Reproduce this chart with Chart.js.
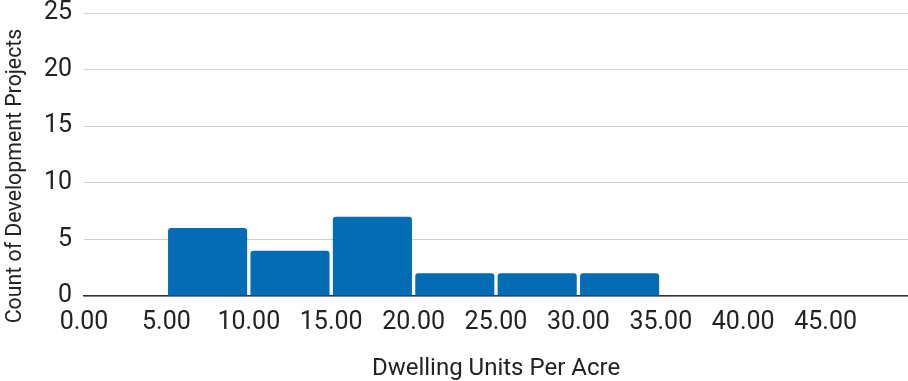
<!DOCTYPE html>
<html>
<head>
<meta charset="utf-8">
<script src="https://cdn.jsdelivr.net/npm/chart.js@4.4.1/dist/chart.umd.min.js"></script>
<style>
  html, body { margin: 0; padding: 0; background: #ffffff; }
  #wrap { width: 908px; height: 381px; position: relative; }
</style>
</head>
<body>
<div id="wrap"><canvas id="histChart"></canvas></div>
<script>
// Histogram bins (dwelling units per acre) and counts
var binStarts = [0, 5, 10, 15, 20, 25, 30, 35, 40, 45];
var binWidth = 5;
var binCounts = [0, 6, 4, 7, 2, 2, 2, 0, 0, 0];
var xTickLabels = ['0.00', '5.00', '10.00', '15.00', '20.00', '25.00', '30.00', '35.00', '40.00', '45.00'];
var yTicks = [0, 5, 10, 15, 20, 25];

var xTitle = 'Dwelling Units Per Acre';
var yTitle = 'Count of Development Projects';

var barColor = '#046bb5';
var textColor = '#222222';

// bars sit at the middle of each bin on a linear x scale
var points = binStarts.map(function(start, i) {
    return { x: start + binWidth / 2, y: binCounts[i] };
});

// the y title is drawn by hand so it can sit a bit lower than the plot centre
var yTitlePlugin = {
    id: 'yTitle',
    afterDraw: function(chart) {
        var ctx = chart.ctx;
        ctx.save();
        ctx.translate(15.5, 176);
        ctx.rotate(-Math.PI / 2);
        ctx.font = '21.3px Roboto';
        ctx.fillStyle = textColor;
        ctx.textAlign = 'center';
        ctx.textBaseline = 'middle';
        ctx.fillText(yTitle, 0, 0);
        ctx.restore();
    }
};

var ctx = document.getElementById('histChart').getContext('2d');
var histChart = new Chart(ctx, {
    type: 'bar',
    data: {
        datasets: [{
            data: points,
            backgroundColor: barColor,
            borderWidth: 0,
            borderRadius: 3,
            barPercentage: 0.96,
            categoryPercentage: 1.0
        }]
    },
    options: {
        responsive: true,
        maintainAspectRatio: false,
        animation: false,
        layout: { padding: 0 },
        plugins: {
            legend: { display: false },
            tooltip: { enabled: false }
        },
        scales: {
            x: {
                type: 'linear',
                min: 0,
                max: 50,
                offset: false,
                afterFit: function(scale) {
                    scale.height = 85;
                    scale.paddingLeft = 0;
                    scale.paddingRight = 0;
                },
                afterBuildTicks: function(scale) {
                    scale.ticks = binStarts.map(function(v) { return { value: v }; });
                },
                grid: { display: false, drawTicks: false },
                border: { display: true, color: '#333333', width: 1.5 },
                ticks: {
                    padding: 12,
                    maxRotation: 0,
                    autoSkip: false,
                    color: textColor,
                    font: { family: 'Roboto', size: 25 },
                    callback: function(value) {
                        var i = binStarts.indexOf(value);
                        return i >= 0 ? xTickLabels[i] : '';
                    }
                },
                title: {
                    display: true,
                    text: xTitle,
                    color: textColor,
                    font: { family: 'Roboto', size: 24, lineHeight: 1.0 },
                    padding: { top: 0, bottom: 0 }
                }
            },
            y: {
                min: 0,
                max: 25,
                afterFit: function(scale) {
                    scale.width = 84;
                    scale.paddingTop = 13;
                    scale.paddingBottom = 0;
                },
                afterBuildTicks: function(scale) {
                    scale.ticks = yTicks.map(function(v) { return { value: v }; });
                },
                grid: { color: '#d0d0d0', lineWidth: 1, drawTicks: false },
                border: { display: false },
                ticks: {
                    padding: 12,
                    color: textColor,
                    font: { family: 'Roboto', size: 25 }
                }
            }
        }
    },
    plugins: [yTitlePlugin]
});
</script>
</body>
</html>
